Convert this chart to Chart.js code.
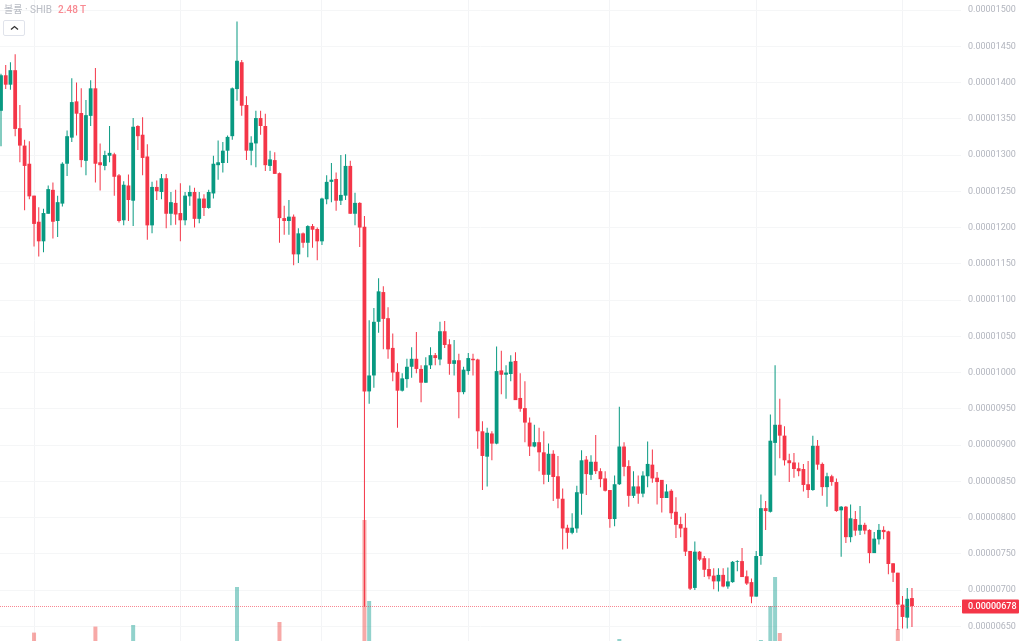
<!DOCTYPE html>
<html><head><meta charset="utf-8">
<style>
html,body{margin:0;padding:0;background:#fff;width:1024px;height:641px;overflow:hidden}
#c{position:absolute;left:0;top:0}
#head{position:absolute;left:4px;top:3px;font:10px/13px Roboto,"Noto Sans CJK KR",sans-serif;color:#b9bcc4;white-space:nowrap}
#head span{color:#f88a92;margin-left:6px;font-weight:500}
#btn{position:absolute;left:3px;top:20px;width:20px;height:14px;border:1px solid #e0e3eb;border-radius:2px;background:#fff}
#btn svg{position:absolute;left:6px;top:4px}
</style>
<script src="https://cdn.jsdelivr.net/npm/chart.js@4"></script>
</head><body>
<canvas id="c" width="1024" height="641"></canvas>
<div id="head">볼륨 · SHIB<span>2.48 T</span></div>
<div id="btn"><svg width="9" height="6" viewBox="0 0 9 6"><path d="M1 4.5 L4.5 1.5 L8 4.5" fill="none" stroke="#333" stroke-width="1.3"/></svg></div>
<script>
// prices are in units of 0.00000001
const opens=[1361,1410,1397,1417,1337,1313,1288,1244,1208,1181,
1219,1252,1209,1233,1288,1324,1374,1358,1292,1354,
1392,1290,1285,1299,1301,1272,1210,1258,1237,1340,
1328,1298,1203,1256,1249,1268,1219,1234,1220,1210,
1243,1249,1212,1240,1227,1247,1286,1289,1306,1326,
1391,1428,1369,1306,1316,1351,1340,1285,1293,1275,
1213,1209,1215,1163,1192,1179,1202,1198,1181,1239,
1263,1267,1237,1244,1285,1219,1234,1201,974,996,
1070,1111,1075,1034,1001,975,991,1008,1019,1005,
986,1010,1024,1018,1057,1039,1012,1017,973,1002,
1019,1018,919,884,916,902,1003,997,998,1016,
965,951,931,898,904,890,859,888,857,826,
786,779,785,833,880,859,877,864,854,838,
798,846,898,871,830,843,833,857,873,855,
852,827,837,808,791,786,754,703,753,744,
729,720,712,721,705,711,739,740,719,711,
691,747,813,808,903,928,913,879,876,868,
867,846,838,899,874,842,857,849,810,815,
773,798,782,790,783,751,770,783,781,737,
724,680,662,689];
const closes=[1410,1397,1417,1336,1313,1285,1243,1205,1181,1220,
1253,1208,1235,1288,1326,1373,1357,1293,1355,1392,
1288,1286,1300,1303,1270,1209,1259,1238,1339,1326,
1296,1203,1256,1250,1268,1219,1235,1218,1210,1244,
1249,1212,1240,1227,1249,1288,1290,1306,1325,1392,
1430,1368,1306,1317,1351,1340,1286,1294,1274,1213,
1209,1215,1163,1192,1179,1202,1197,1181,1240,1263,
1266,1237,1245,1285,1219,1234,1200,974,996,1070,
1112,1074,1032,1000,975,992,1008,1019,1005,986,
1010,1024,1020,1057,1038,1012,1017,973,1004,1020,
1017,919,885,917,902,1002,997,1000,1015,962,
950,931,898,904,890,859,888,856,826,785,
779,786,835,879,860,877,864,853,837,798,
846,898,870,830,843,833,858,874,854,849,
827,836,806,790,785,753,702,753,742,728,
719,712,721,705,712,739,740,718,709,691,
747,813,809,906,928,913,879,875,867,864,
845,838,899,873,842,857,849,809,815,773,
799,782,790,782,751,771,783,780,736,724,
680,663,688,678];
const highs=[1412,1424,1428,1439,1369,1321,1319,1244,1228,1226,
1258,1262,1244,1290,1334,1406,1400,1392,1376,1403,
1420,1316,1306,1340,1303,1274,1264,1273,1351,1341,
1352,1315,1263,1265,1274,1274,1249,1252,1261,1249,
1258,1255,1249,1246,1252,1299,1320,1318,1327,1393,
1484,1431,1381,1326,1361,1361,1357,1306,1304,1276,
1230,1238,1218,1199,1193,1203,1205,1200,1241,1272,
1289,1276,1300,1301,1292,1248,1235,1216,1072,1089,
1130,1119,1090,1054,1013,999,1019,1035,1056,1010,
1021,1035,1027,1070,1071,1046,1045,1026,1008,1027,
1026,1019,933,924,919,1036,1030,1010,1024,1028,
999,988,938,928,924,919,902,893,885,840,
790,806,844,893,885,886,914,868,864,838,
858,953,904,879,864,858,864,905,894,863,
852,846,839,828,801,806,754,767,754,747,
744,730,730,730,731,740,741,758,727,716,
754,832,823,942,1010,964,926,888,889,876,
874,878,913,907,876,862,859,854,816,816,
818,809,816,793,784,780,791,788,782,737,
724,692,703,703];
const lows=[1312,1391,1390,1326,1290,1224,1239,1174,1160,1166,
1219,1185,1187,1229,1271,1318,1327,1283,1272,1340,
1262,1251,1279,1290,1244,1207,1203,1209,1202,1307,
1272,1183,1192,1238,1239,1199,1203,1204,1181,1203,
1230,1200,1206,1216,1226,1240,1266,1276,1289,1321,
1375,1354,1293,1286,1283,1328,1278,1278,1274,1179,
1190,1190,1148,1151,1172,1159,1172,1155,1176,1232,
1235,1223,1231,1238,1219,1203,1173,677,957,979,
1055,1032,1019,988,924,974,979,993,999,959,
986,1005,1010,1010,1034,997,996,937,970,997,
996,895,838,843,879,901,970,964,988,962,
946,904,885,897,864,846,849,823,813,756,
757,777,779,804,831,852,860,842,836,786,
788,845,857,815,827,819,828,842,848,818,
807,827,798,772,773,747,700,700,740,718,
715,701,698,704,702,710,726,718,707,682,
691,735,783,807,858,882,872,849,855,857,
836,827,837,866,830,815,844,808,746,765,
766,775,776,777,737,751,763,770,722,711,
645,647,647,649];
// volume (trillions) for the sessions whose bars reach the visible area
const volumeDays=[7,20,28,50,59,77,78,131,161,163,164,165,190];
const volumeValues=[4.2,7.2,8,27,9.5,60.5,20,1,0.5,17.5,32,4,6];
const gridDays=[7,38,68,99,129,160,191];
const priceTicks=[650,700,750,800,850,900,950,1000,1050,1100,1150,1200,1250,1300,1350,1400,1450,1500];
const lastPrice=closes[closes.length-1];

const RED='#F43648',GREEN='#089981',VRED='rgba(239,83,80,.5)',VGREEN='rgba(38,166,154,.5)';
const fmt=v=>(v/1e8).toFixed(8);
const days=opens.map((_,i)=>i);
const up=i=>closes[i]>=opens[i];

const lastLine={id:'lastLine',afterDraw(ch){
  const c=ch.ctx,a=ch.chartArea,y=Math.round(ch.scales.y.getPixelForValue(lastPrice))+.5;
  c.save();
  c.strokeStyle='rgba(244,54,72,.6)';c.lineWidth=1;c.setLineDash([1,1]);
  c.beginPath();c.moveTo(0,y);c.lineTo(a.right,y);c.stroke();
  c.setLineDash([]);
  c.fillStyle=RED;c.beginPath();c.roundRect(a.right+1,y-7,57,14,1);c.fill();
  c.fillStyle='#fff';c.font='500 9px Roboto, sans-serif';c.textBaseline='middle';c.textAlign='left';
  c.fillText(fmt(lastPrice),968,y+.5);
  c.restore();
}};

function noPad(s){s.paddingTop=0;s.paddingBottom=0;s.paddingLeft=0;s.paddingRight=0}

new Chart(document.getElementById('c'),{
  type:'bar',
  plugins:[lastLine],
  data:{datasets:[
    {label:'body',order:1,grouped:false,barThickness:3.8,inflateAmount:0,
     data:days.map(i=>({x:i,y:[opens[i],closes[i]]})),
     backgroundColor:days.map(i=>up(i)?GREEN:RED)},
    {label:'wick',order:2,grouped:false,barThickness:1,inflateAmount:0,
     data:days.map(i=>({x:i,y:[lows[i],highs[i]]})),
     backgroundColor:days.map(i=>up(i)?GREEN:RED)},
    {label:'volume',order:3,grouped:false,barThickness:4,inflateAmount:0,yAxisID:'v',
     data:volumeDays.map((d,k)=>({x:d,y:volumeValues[k]})),
     backgroundColor:volumeDays.map(d=>up(d)?VGREEN:VRED)}
  ]},
  options:{
    responsive:false,animation:false,devicePixelRatio:1,
    layout:{padding:0},
    plugins:{legend:{display:false},tooltip:{enabled:false}},
    scales:{
      x:{type:'linear',min:-0.212,max:203.39,offset:false,
         grid:{offset:false,color:'#f3f4f6',drawTicks:false,lineWidth:1},
         border:{display:false},
         ticks:{display:false},
         afterBuildTicks(s){s.ticks=gridDays.map(v=>({value:v}))},
         afterFit(s){s.height=0;noPad(s)}},
      y:{type:'linear',position:'right',min:629.8,max:1513.8,
         grid:{color:'#f5f6f7',drawTicks:false,lineWidth:1},
         border:{display:false},
         afterBuildTicks(s){s.ticks=priceTicks.map(v=>({value:v}))},
         afterFit(s){s.width=63;noPad(s)},
         ticks:{autoSkip:false,padding:7,color:'#b2b5be',font:{family:'Roboto',size:9},
                callback:v=>fmt(v)}},
      v:{type:'linear',display:false,min:0,max:320.5,grid:{display:false}}
    }
  }
});
</script>
</body></html>
